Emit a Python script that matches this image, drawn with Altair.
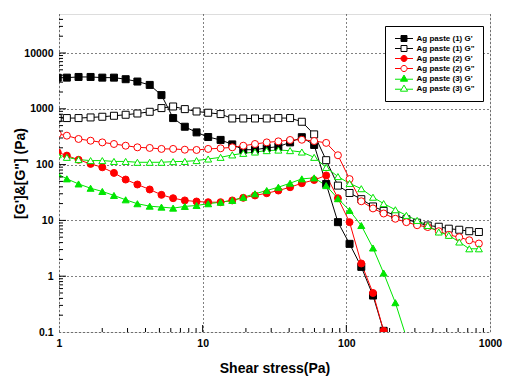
import altair as alt
import pandas as pd

# Shear stress (Pa) sample points (shared by all series)
stress = [0.98, 1.134, 1.368, 1.659, 2.002, 2.413, 2.911, 3.513, 4.280, 5.167,
          6.227, 7.511, 9.068, 10.92, 13.33, 16.07, 19.17, 23.13, 27.92, 33.64,
          40.60, 49.00, 59.70, 72.40, 87.39, 105.3, 127.1, 153.3, 181.8, 219.4,
          261.8, 311.0, 368.7, 439.9, 516.6, 610.7, 717.1, 836.7]

N = None
g1_storage = [3600, 3620, 3720, 3720, 3620, 3620, 3390, 3080, 2680, 1760,
              682, 477, 378, 312, 277, 230, 185, 185, 199, 210,
              250, 310, 225, 45, 9.3, 3.8, 1.47, 0.45, 0.105, N,
              N, N, N, N, N, N, N, N]
g1_loss = [680, 682, 682, 700, 720, 750, 782, 824, 884, 1030,
           1100, 987, 895, 850, 804, 671, 671, 671, 671, 682,
           682, 586, 348, 120, 42, 31, 24, 17.8, 14.8, 12.3,
           10.5, 9.1, 8.1, 7.7, 7.1, 6.8, 6.4, 6.2]
g2_storage = [166, 145, 122, 103, 89.5, 71, 54, 44, 35.8, 28.7,
              25, 22.8, 21.8, 21.2, 21.2, 22.8, 25.4, 28, 30.7, 34.3,
              39.3, 46.4, 53, 64, 25, 9.3, 1.69, 0.50, 0.105, N,
              N, N, N, N, N, N, N, N]
g2_loss = [355, 330, 288, 268, 250, 234, 218, 204, 199, 191,
           191, 185, 183, 191, 196, 204, 218, 234, 250, 261,
           276, 279, 265, 245, 147, 55, 22, 16.4, 13.3, 10.7,
           9.3, 8.2, 7.6, 6.4, 5.5, 5.0, 4.4, 3.85]
g3_storage = [68, 55.5, 45, 37.7, 33, 28, 23.4, 19.9, 18, 17.3,
              16.6, 17.8, 18.5, 19.9, 21.2, 22.8, 26, 30, 34.3, 39.3,
              46.4, 55.5, 57.8, 42, 24.5, 15.1, 8.1, 3.2, 1.14, 0.335,
              0.08, N, N, N, N, N, N, N]
g3_loss = [150, 135, 123, 118, 118, 114, 114, 110, 110, 110,
           113, 114, 118, 126, 135, 149, 159, 168, 178, 182,
           178, 168, 135, 89, 61, 46, 37, 26, 20, 15.5,
           12.3, 10, 8.1, 6.2, 5.4, 4.1, 3.1, 3.1]

series_names = ["Ag paste (1) G'", 'Ag paste (1) G"', "Ag paste (2) G'",
                'Ag paste (2) G"', "Ag paste (3) G'", 'Ag paste (3) G"']
marker_keys = ["m1f", "m1o", "m2f", "m2o", "m3f", "m3o"]
series_values = [g1_storage, g1_loss, g2_storage, g2_loss, g3_storage, g3_loss]
stroke_colors = ["#000000", "#000000", "#ff0000", "#ff0000", "#00e600", "#00e600"]
fill_colors = ["#000000", "#ffffff", "#ff0000", "#ffffff", "#00e600", "#ffffff"]
shapes = ["square", "square", "circle", "circle", "triangle-up", "triangle-up"]
sizes = [49, 49, 56, 56, 72, 72]

x_labels = [1, 10, 100, 1000]
y_labels = [0.1, 1, 10, 100, 1000, 10000]
x_major_ticks = [10, 100]
x_minor_ticks = [2, 3, 4, 5, 6, 7, 8, 9, 20, 30, 40, 50, 60, 70, 80, 90,
                 200, 300, 400, 500, 600, 700, 800, 900]
y_major_ticks = [1, 10, 100, 1000, 10000]
y_minor_ticks = [0.2, 0.3, 0.4, 0.5, 0.6, 0.7, 0.8, 0.9,
                 2, 3, 4, 5, 6, 7, 8, 9,
                 20, 30, 40, 50, 60, 70, 80, 90,
                 200, 300, 400, 500, 600, 700, 800, 900,
                 2000, 3000, 4000, 5000, 6000, 7000, 8000, 9000,
                 20000, 30000, 40000]

rows = []
for k, (name, key, vals) in enumerate(zip(series_names, marker_keys, series_values)):
    for s, v in zip(stress, vals):
        if v is not None:
            rows.append({"stress": s, "G": v, "series": name, "mk": key, "k": k})
df = pd.DataFrame(rows)

W, H = 431, 318
FONT = "Liberation Sans"
xscale = alt.Scale(type="log", domain=[1, 1000], nice=False)
yscale = alt.Scale(type="log", domain=[0.1, 50000], nice=False)
color_scale = alt.Scale(domain=series_names, range=stroke_colors)

# legend symbols: short line with the marker in the middle
sq = "M-1,0H-0.33M0.33,0H1M-0.33,-0.33H0.33V0.33H-0.33Z"
ci = "M-1,0H-0.34M0.34,0H1M-0.34,0A0.34,0.34,0,1,1,0.34,0A0.34,0.34,0,1,1,-0.34,0Z"
tr = "M-1,0.08H-0.27M0.27,0.08H1M0,-0.38L0.4,0.3H-0.4Z"
sym_list = [sq, sq, ci, ci, tr, tr]
sym_expr = "[" + ",".join("'" + p + "'" for p in sym_list) + "][datum.index]"
fill_expr = "[" + ",".join("'" + c + "'" for c in fill_colors) + "][datum.index]"

x_axis = alt.Axis(values=x_labels, format="~g", grid=True, gridDash=[1, 3],
                  gridColor="black", gridWidth=1, gridOpacity=1, ticks=False,
                  tickSize=0, domain=False, labelFont=FONT, labelFontSize=10.5,
                  labelFontWeight="bold", labelColor="black", labelPadding=6,
                  labelFlush=False, title="Shear stress(Pa)", titleFont=FONT,
                  titleFontSize=14, titleFontWeight="bold", titleColor="black",
                  titleY=40, titleBaseline="alphabetic")
y_axis = alt.Axis(values=y_labels, format="~g", grid=True, gridDash=[1, 3],
                  gridColor="black", gridWidth=1, gridOpacity=1, ticks=False,
                  tickSize=0, domain=False, labelFont=FONT, labelFontSize=10.5,
                  labelFontWeight="bold", labelColor="black", labelPadding=6,
                  labelFlush=False, title="[G']&[G\"] (Pa)", titleFont=FONT,
                  titleFontSize=14, titleFontWeight="bold", titleColor="black",
                  titleX=-39, titleBaseline="middle")

legend = alt.Legend(title=None, orient="none", legendX=326, legendY=12,
                    direction="vertical", symbolType={"expr": sym_expr},
                    symbolFillColor={"expr": fill_expr}, symbolSize=324,
                    symbolStrokeWidth=1, clipHeight=10, rowPadding=0,
                    symbolOffset=2,
                    labelFont=FONT, labelFontSize=8, labelFontWeight="bold",
                    labelColor="black", labelOffset=3, labelLimit=200,
                    padding=7.5, strokeColor="black", fillColor="white")

base = alt.Chart(df)
lines = base.mark_line(strokeWidth=1, clip=True).encode(
    x=alt.X("stress:Q", scale=xscale, axis=x_axis),
    y=alt.Y("G:Q", scale=yscale, axis=y_axis),
    color=alt.Color("series:N", scale=color_scale, legend=legend),
    order=alt.Order("stress:Q"),
)

points = base.mark_point(clip=True, strokeWidth=1, opacity=1).encode(
    x=alt.X("stress:Q", scale=xscale, axis=x_axis),
    y=alt.Y("G:Q", scale=yscale, axis=y_axis),
    color=alt.Color("series:N", scale=color_scale, legend=legend),
    fill=alt.Fill("mk:N", scale=alt.Scale(domain=marker_keys, range=fill_colors), legend=None),
    shape=alt.Shape("mk:N", scale=alt.Scale(domain=marker_keys, range=shapes), legend=None),
    size=alt.Size("mk:N", scale=alt.Scale(domain=marker_keys, range=sizes), legend=None),
    order=alt.Order("k:Q"),
)

def xticks(vals, length):
    return alt.Chart(pd.DataFrame({"stress": vals})).mark_rule(color="black", strokeWidth=1).encode(
        x=alt.X("stress:Q", scale=xscale, axis=x_axis), y=alt.value(H), y2=alt.value(H - length))

def yticks(vals, length):
    return alt.Chart(pd.DataFrame({"G": vals})).mark_rule(color="black", strokeWidth=1).encode(
        y=alt.Y("G:Q", scale=yscale, axis=y_axis), x=alt.value(0), x2=alt.value(length))

chart = alt.layer(
    lines, points,
    xticks(x_major_ticks, 7), xticks(x_minor_ticks, 4),
    yticks(y_major_ticks, 7), yticks(y_minor_ticks, 4),
).properties(
    width=W, height=H,
    autosize=alt.AutoSizeParams(type="none"),
    padding={"left": 51, "top": 6, "right": 14, "bottom": 44},
).configure_view(stroke="black", strokeWidth=1).configure(background="white")

chart.save("out.html", embed_options={"renderer": "svg", "actions": False})
